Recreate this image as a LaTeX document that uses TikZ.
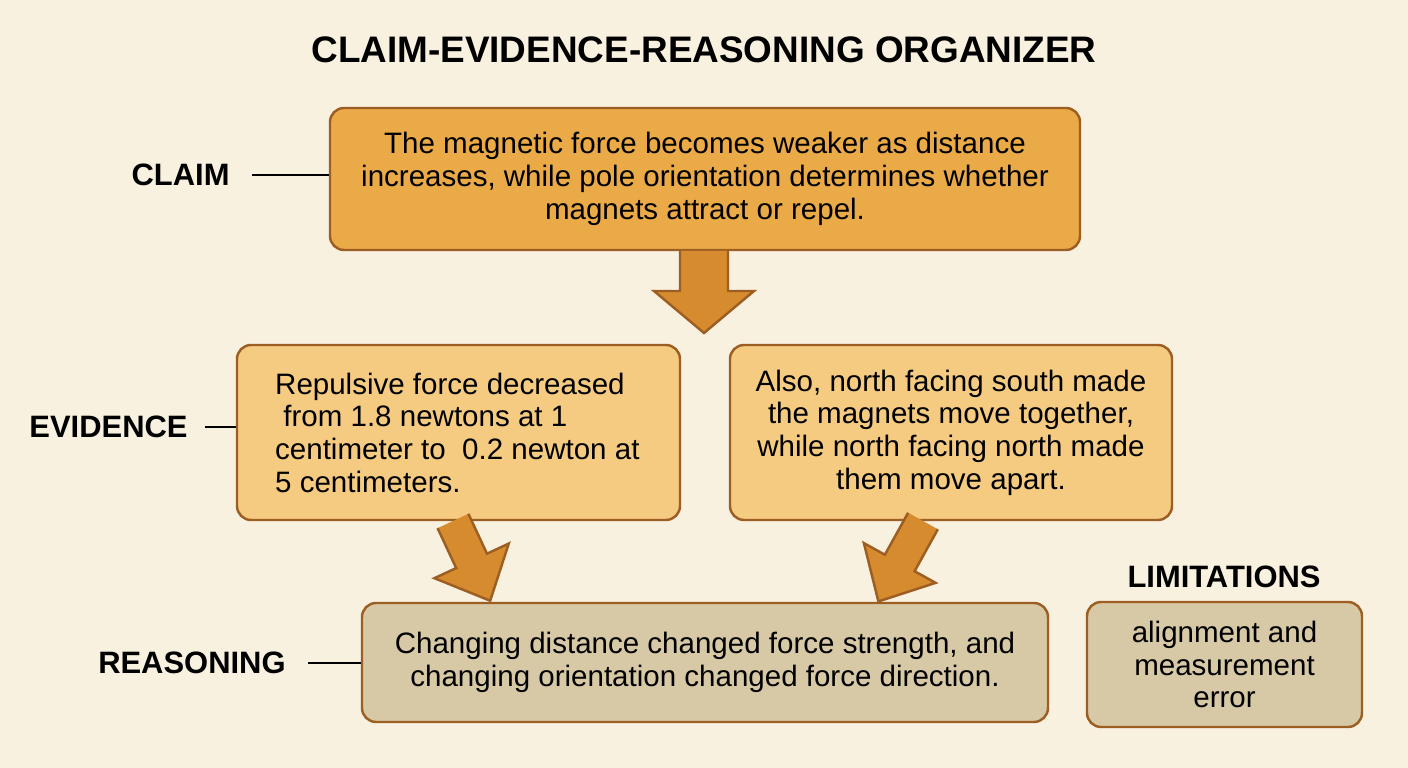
\documentclass[tikz,border=0pt]{standalone}
\usepackage{fontspec}
\setmainfont{Liberation Sans}
\definecolor{bgcol}{HTML}{F8F1E0}
\definecolor{claimfill}{HTML}{EBAA48}
\definecolor{evidfill}{HTML}{F5CB82}
\definecolor{reasfill}{HTML}{D8C9A6}
\definecolor{edgecol}{HTML}{9C5E22}
\definecolor{arrowfill}{HTML}{D68B2F}
% block arrow: start, angle, length, shaft half width, head half width, head length
\newcommand{\blkarrow}[6]{%
  \begin{scope}[shift={(#1)},rotate=#2]
    \draw[draw=edgecol,fill=arrowfill,line width=0.7pt,line join=miter]
      (0,-#4) -- (#3-#6,-#4) -- (#3-#6,-#5) -- (#3,0) -- (#3-#6,#5) -- (#3-#6,#4) -- (0,#4);
  \end{scope}}
\begin{document}
\begin{tikzpicture}[font=\fontsize{8.4pt}{9.3pt}\selectfont]
    \tikzstyle{box}=[draw=edgecol,line width=0.7pt,rounded corners=4pt,align=center,inner sep=0pt]
    \tikzstyle{side label}=[font=\fontsize{8.8pt}{10pt}\selectfont\bfseries,anchor=east]

    \fill[bgcol] (0,0) rectangle (14.08,7.68);

    \node(title) at (7.04,7.18){\fontsize{10.5pt}{12pt}\selectfont\bfseries CLAIM-EVIDENCE-REASONING ORGANIZER};

    \node(claim)[box,fill=claimfill,minimum width=7.5cm,minimum height=1.42cm] at (7.05,5.89)
        {The magnetic force becomes weaker as distance\\increases, while pole orientation determines whether\\magnets attract or repel.};
    \node(ev1)[box,fill=evidfill,minimum width=4.43cm,minimum height=1.75cm] at (4.585,3.355){};
    \node(ev1text)[anchor=west,align=left] at ([xshift=0.27cm]ev1.west)
        {Repulsive force decreased\\ \ from 1.8 newtons at 1\\centimeter to\ \ 0.2 newton at\\5 centimeters.};
    \node(ev2)[box,fill=evidfill,minimum width=4.42cm,minimum height=1.75cm] at (9.51,3.355)
        {Also, north facing south made\\the magnets move together,\\while north facing north made\\them move apart.};
    \node(reason)[box,fill=reasfill,minimum width=6.86cm,minimum height=1.19cm] at (7.05,1.055)
        {Changing distance changed force strength, and\\changing orientation changed force direction.};
    \node(limit)[box,fill=reasfill,minimum width=2.75cm,minimum height=1.25cm] at (12.245,1.035)
        {alignment and\\measurement\\error};
    \node(limtitle)[font=\fontsize{8.8pt}{10pt}\selectfont\bfseries] at (12.24,1.91){LIMITATIONS};

    % side labels
    \node(lclaim)[side label] at (2.42,5.93){CLAIM};
    \node(lev)[side label] at (2.0,3.41){EVIDENCE};
    \node(lreas)[side label] at (2.98,1.05){REASONING};
    \draw[line width=0.8pt] (lclaim.east)++(0.1,0) -- (claim.west|-lclaim);
    \draw[line width=0.8pt] (lev.east)++(0.05,0) -- (ev1.west|-lev);
    \draw[line width=0.8pt] (lreas.east)++(0.1,0) -- (reason.west|-lreas);

    % block arrows
    \blkarrow{7.04,5.17}{-90}{0.82}{0.24}{0.5}{0.42}
    \blkarrow{4.53,2.47}{-65}{0.88}{0.17}{0.41}{0.44}
    \blkarrow{9.23,2.47}{-119}{0.92}{0.17}{0.41}{0.44}
\end{tikzpicture}
\end{document}
